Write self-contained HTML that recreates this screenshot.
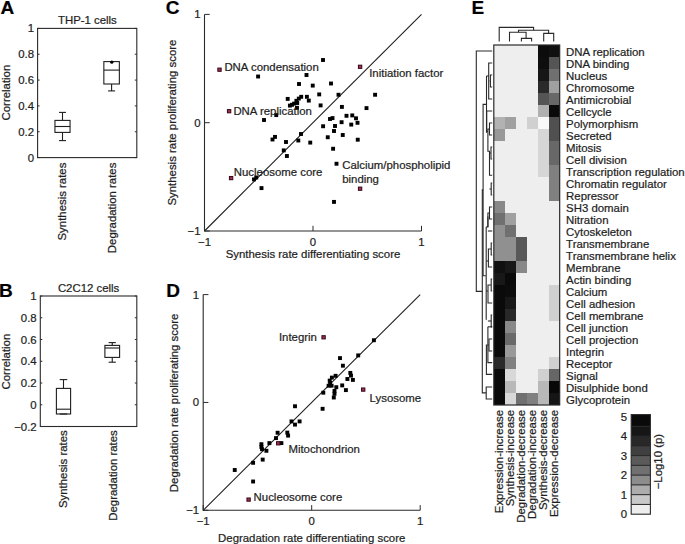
<!DOCTYPE html>
<html><head><meta charset="utf-8"><title>Figure</title>
<style>
html,body{margin:0;padding:0;background:#fff;}
body{width:685px;height:544px;overflow:hidden;}
svg{display:block;font-family:"Liberation Sans",sans-serif;}
text{stroke:#1e1e1e;stroke-width:0.22px;paint-order:stroke;}
</style></head>
<body>
<svg width="685" height="544" viewBox="0 0 685 544">
<rect x="0" y="0" width="685" height="544" fill="#fff"/>
<text x="0.40" y="14.00" font-size="19" text-anchor="start" font-weight="bold" fill="#000">A</text>
<text x="87.40" y="23.60" font-size="11.4" text-anchor="middle" font-weight="normal" fill="#1e1e1e">THP-1 cells</text>
<rect x="37.6" y="28.4" width="99.20000000000002" height="129.2" fill="none" stroke="#2a2a2a" stroke-width="1.1"/>
<line x1="37.60" y1="157.60" x2="39.60" y2="157.60" stroke="#2a2a2a" stroke-width="1"/>
<line x1="136.80" y1="157.60" x2="134.80" y2="157.60" stroke="#2a2a2a" stroke-width="1"/>
<text x="34.00" y="161.60" font-size="11.4" text-anchor="end" font-weight="normal" fill="#1e1e1e">0</text>
<line x1="37.60" y1="131.76" x2="39.60" y2="131.76" stroke="#2a2a2a" stroke-width="1"/>
<line x1="136.80" y1="131.76" x2="134.80" y2="131.76" stroke="#2a2a2a" stroke-width="1"/>
<text x="34.00" y="135.76" font-size="11.4" text-anchor="end" font-weight="normal" fill="#1e1e1e">0.2</text>
<line x1="37.60" y1="105.92" x2="39.60" y2="105.92" stroke="#2a2a2a" stroke-width="1"/>
<line x1="136.80" y1="105.92" x2="134.80" y2="105.92" stroke="#2a2a2a" stroke-width="1"/>
<text x="34.00" y="109.92" font-size="11.4" text-anchor="end" font-weight="normal" fill="#1e1e1e">0.4</text>
<line x1="37.60" y1="80.08" x2="39.60" y2="80.08" stroke="#2a2a2a" stroke-width="1"/>
<line x1="136.80" y1="80.08" x2="134.80" y2="80.08" stroke="#2a2a2a" stroke-width="1"/>
<text x="34.00" y="84.08" font-size="11.4" text-anchor="end" font-weight="normal" fill="#1e1e1e">0.6</text>
<line x1="37.60" y1="54.24" x2="39.60" y2="54.24" stroke="#2a2a2a" stroke-width="1"/>
<line x1="136.80" y1="54.24" x2="134.80" y2="54.24" stroke="#2a2a2a" stroke-width="1"/>
<text x="34.00" y="58.24" font-size="11.4" text-anchor="end" font-weight="normal" fill="#1e1e1e">0.8</text>
<line x1="37.60" y1="28.40" x2="39.60" y2="28.40" stroke="#2a2a2a" stroke-width="1"/>
<line x1="136.80" y1="28.40" x2="134.80" y2="28.40" stroke="#2a2a2a" stroke-width="1"/>
<text x="34.00" y="32.40" font-size="11.4" text-anchor="end" font-weight="normal" fill="#1e1e1e">1</text>
<text transform="translate(9.60,92.60) rotate(-90)" font-size="11.4" text-anchor="middle" font-weight="normal" fill="#1e1e1e">Correlation</text>
<rect x="54.95" y="120.40" width="15.10" height="12.00" fill="none" stroke="#1e1e1e" stroke-width="1.1"/>
<line x1="54.95" y1="126.50" x2="70.05" y2="126.50" stroke="#1e1e1e" stroke-width="1.1"/>
<line x1="62.50" y1="112.40" x2="62.50" y2="120.40" stroke="#1e1e1e" stroke-width="1.1"/>
<line x1="59.00" y1="112.40" x2="66.00" y2="112.40" stroke="#1e1e1e" stroke-width="1.1"/>
<line x1="62.50" y1="132.40" x2="62.50" y2="140.60" stroke="#1e1e1e" stroke-width="1.1"/>
<line x1="59.00" y1="140.60" x2="66.00" y2="140.60" stroke="#1e1e1e" stroke-width="1.1"/>
<text transform="translate(66.40,162.60) rotate(-90)" font-size="11.4" text-anchor="end" font-weight="normal" fill="#1e1e1e">Synthesis rates</text>
<rect x="103.85" y="61.60" width="15.50" height="22.40" fill="none" stroke="#1e1e1e" stroke-width="1.1"/>
<line x1="103.85" y1="70.10" x2="119.35" y2="70.10" stroke="#1e1e1e" stroke-width="1.1"/>
<line x1="111.60" y1="84.00" x2="111.60" y2="90.90" stroke="#1e1e1e" stroke-width="1.1"/>
<line x1="108.10" y1="90.90" x2="115.10" y2="90.90" stroke="#1e1e1e" stroke-width="1.1"/>
<text transform="translate(116.30,162.60) rotate(-90)" font-size="11.4" text-anchor="end" font-weight="normal" fill="#1e1e1e">Degradation rates</text>
<circle cx="111.8" cy="62.2" r="1.6" fill="#000"/>
<text x="-1.10" y="296.60" font-size="19" text-anchor="start" font-weight="bold" fill="#000">B</text>
<text x="88.60" y="291.60" font-size="11.4" text-anchor="middle" font-weight="normal" fill="#1e1e1e">C2C12 cells</text>
<rect x="40.3" y="296.0" width="96.50000000000001" height="130.5" fill="none" stroke="#2a2a2a" stroke-width="1.1"/>
<line x1="40.30" y1="426.50" x2="42.30" y2="426.50" stroke="#2a2a2a" stroke-width="1"/>
<line x1="136.80" y1="426.50" x2="134.80" y2="426.50" stroke="#2a2a2a" stroke-width="1"/>
<text x="36.70" y="430.50" font-size="11.4" text-anchor="end" font-weight="normal" fill="#1e1e1e">−0.2</text>
<line x1="40.30" y1="404.75" x2="42.30" y2="404.75" stroke="#2a2a2a" stroke-width="1"/>
<line x1="136.80" y1="404.75" x2="134.80" y2="404.75" stroke="#2a2a2a" stroke-width="1"/>
<text x="36.70" y="408.75" font-size="11.4" text-anchor="end" font-weight="normal" fill="#1e1e1e">0</text>
<line x1="40.30" y1="383.00" x2="42.30" y2="383.00" stroke="#2a2a2a" stroke-width="1"/>
<line x1="136.80" y1="383.00" x2="134.80" y2="383.00" stroke="#2a2a2a" stroke-width="1"/>
<text x="36.70" y="387.00" font-size="11.4" text-anchor="end" font-weight="normal" fill="#1e1e1e">0.2</text>
<line x1="40.30" y1="361.25" x2="42.30" y2="361.25" stroke="#2a2a2a" stroke-width="1"/>
<line x1="136.80" y1="361.25" x2="134.80" y2="361.25" stroke="#2a2a2a" stroke-width="1"/>
<text x="36.70" y="365.25" font-size="11.4" text-anchor="end" font-weight="normal" fill="#1e1e1e">0.4</text>
<line x1="40.30" y1="339.50" x2="42.30" y2="339.50" stroke="#2a2a2a" stroke-width="1"/>
<line x1="136.80" y1="339.50" x2="134.80" y2="339.50" stroke="#2a2a2a" stroke-width="1"/>
<text x="36.70" y="343.50" font-size="11.4" text-anchor="end" font-weight="normal" fill="#1e1e1e">0.6</text>
<line x1="40.30" y1="317.75" x2="42.30" y2="317.75" stroke="#2a2a2a" stroke-width="1"/>
<line x1="136.80" y1="317.75" x2="134.80" y2="317.75" stroke="#2a2a2a" stroke-width="1"/>
<text x="36.70" y="321.75" font-size="11.4" text-anchor="end" font-weight="normal" fill="#1e1e1e">0.8</text>
<line x1="40.30" y1="296.00" x2="42.30" y2="296.00" stroke="#2a2a2a" stroke-width="1"/>
<line x1="136.80" y1="296.00" x2="134.80" y2="296.00" stroke="#2a2a2a" stroke-width="1"/>
<text x="36.70" y="300.00" font-size="11.4" text-anchor="end" font-weight="normal" fill="#1e1e1e">1</text>
<text transform="translate(9.60,361.60) rotate(-90)" font-size="11.4" text-anchor="middle" font-weight="normal" fill="#1e1e1e">Correlation</text>
<rect x="56.40" y="388.40" width="14.20" height="25.60" fill="none" stroke="#1e1e1e" stroke-width="1.1"/>
<line x1="56.40" y1="409.20" x2="70.60" y2="409.20" stroke="#1e1e1e" stroke-width="1.1"/>
<line x1="63.50" y1="379.60" x2="63.50" y2="388.40" stroke="#1e1e1e" stroke-width="1.1"/>
<line x1="59.70" y1="379.60" x2="67.30" y2="379.60" stroke="#1e1e1e" stroke-width="1.1"/>
<line x1="63.50" y1="414.00" x2="63.50" y2="414.00" stroke="#1e1e1e" stroke-width="1.1"/>
<line x1="59.70" y1="414.00" x2="67.30" y2="414.00" stroke="#1e1e1e" stroke-width="1.1"/>
<text transform="translate(66.60,430.20) rotate(-90)" font-size="11.4" text-anchor="end" font-weight="normal" fill="#1e1e1e">Synthesis rates</text>
<rect x="104.90" y="345.40" width="14.70" height="12.00" fill="none" stroke="#1e1e1e" stroke-width="1.1"/>
<line x1="104.90" y1="348.00" x2="119.60" y2="348.00" stroke="#1e1e1e" stroke-width="1.1"/>
<line x1="112.25" y1="342.60" x2="112.25" y2="345.40" stroke="#1e1e1e" stroke-width="1.1"/>
<line x1="108.65" y1="342.60" x2="115.85" y2="342.60" stroke="#1e1e1e" stroke-width="1.1"/>
<line x1="112.25" y1="357.40" x2="112.25" y2="362.20" stroke="#1e1e1e" stroke-width="1.1"/>
<line x1="108.65" y1="362.20" x2="115.85" y2="362.20" stroke="#1e1e1e" stroke-width="1.1"/>
<text transform="translate(116.60,430.20) rotate(-90)" font-size="11.4" text-anchor="end" font-weight="normal" fill="#1e1e1e">Degradation rates</text>
<text x="165.80" y="14.00" font-size="19" text-anchor="start" font-weight="bold" fill="#000">C</text>
<path d="M204.50,14.40 L204.50,231.00 L421.50,231.00" fill="none" stroke="#2a2a2a" stroke-width="1.1"/>
<line x1="204.50" y1="231.00" x2="421.50" y2="14.40" stroke="#1e1e1e" stroke-width="1.1"/>
<line x1="204.50" y1="231.00" x2="209.70" y2="231.00" stroke="#2a2a2a" stroke-width="1"/>
<line x1="204.50" y1="231.00" x2="204.50" y2="225.80" stroke="#2a2a2a" stroke-width="1"/>
<line x1="204.50" y1="122.70" x2="209.70" y2="122.70" stroke="#2a2a2a" stroke-width="1"/>
<line x1="313.00" y1="231.00" x2="313.00" y2="225.80" stroke="#2a2a2a" stroke-width="1"/>
<line x1="204.50" y1="14.40" x2="209.70" y2="14.40" stroke="#2a2a2a" stroke-width="1"/>
<line x1="421.50" y1="231.00" x2="421.50" y2="225.80" stroke="#2a2a2a" stroke-width="1"/>
<text x="200.50" y="235.00" font-size="11.4" text-anchor="end" font-weight="normal" fill="#1e1e1e">−1</text>
<text x="204.50" y="245.60" font-size="11.4" text-anchor="middle" font-weight="normal" fill="#1e1e1e">−1</text>
<text x="200.50" y="126.70" font-size="11.4" text-anchor="end" font-weight="normal" fill="#1e1e1e">0</text>
<text x="313.00" y="245.60" font-size="11.4" text-anchor="middle" font-weight="normal" fill="#1e1e1e">0</text>
<text x="200.50" y="18.40" font-size="11.4" text-anchor="end" font-weight="normal" fill="#1e1e1e">1</text>
<text x="421.50" y="245.60" font-size="11.4" text-anchor="middle" font-weight="normal" fill="#1e1e1e">1</text>
<text transform="translate(176.40,122.60) rotate(-90)" font-size="11.4" text-anchor="middle" font-weight="normal" fill="#1e1e1e">Synthesis rate proliferating score</text>
<text x="313.00" y="258.20" font-size="11.4" text-anchor="middle" font-weight="normal" fill="#1e1e1e">Synthesis rate differentiating score</text>
<rect x="256.15" y="74.55" width="3.9" height="3.9" fill="#000"/>
<rect x="304.55" y="73.05" width="3.9" height="3.9" fill="#000"/>
<rect x="321.05" y="58.05" width="3.9" height="3.9" fill="#000"/>
<rect x="297.05" y="82.05" width="3.9" height="3.9" fill="#000"/>
<rect x="310.80" y="83.65" width="3.9" height="3.9" fill="#000"/>
<rect x="329.05" y="81.55" width="3.9" height="3.9" fill="#000"/>
<rect x="317.25" y="92.45" width="3.9" height="3.9" fill="#000"/>
<rect x="336.55" y="92.80" width="3.9" height="3.9" fill="#000"/>
<rect x="373.15" y="92.80" width="3.9" height="3.9" fill="#000"/>
<rect x="285.75" y="96.95" width="3.9" height="3.9" fill="#000"/>
<rect x="299.25" y="94.85" width="3.9" height="3.9" fill="#000"/>
<rect x="304.95" y="94.85" width="3.9" height="3.9" fill="#000"/>
<rect x="306.85" y="98.65" width="3.9" height="3.9" fill="#000"/>
<rect x="296.85" y="96.65" width="3.9" height="3.9" fill="#000"/>
<rect x="294.45" y="98.85" width="3.9" height="3.9" fill="#000"/>
<rect x="292.15" y="101.65" width="3.9" height="3.9" fill="#000"/>
<rect x="287.95" y="103.65" width="3.9" height="3.9" fill="#000"/>
<rect x="295.05" y="105.85" width="3.9" height="3.9" fill="#000"/>
<rect x="295.25" y="101.05" width="3.9" height="3.9" fill="#000"/>
<rect x="290.05" y="102.85" width="3.9" height="3.9" fill="#000"/>
<rect x="318.65" y="103.45" width="3.9" height="3.9" fill="#000"/>
<rect x="339.95" y="104.95" width="3.9" height="3.9" fill="#000"/>
<rect x="364.55" y="106.15" width="3.9" height="3.9" fill="#000"/>
<rect x="274.30" y="113.15" width="3.9" height="3.9" fill="#000"/>
<rect x="262.05" y="118.05" width="3.9" height="3.9" fill="#000"/>
<rect x="273.05" y="134.95" width="3.9" height="3.9" fill="#000"/>
<rect x="270.55" y="137.55" width="3.9" height="3.9" fill="#000"/>
<rect x="284.05" y="140.05" width="3.9" height="3.9" fill="#000"/>
<rect x="281.80" y="148.45" width="3.9" height="3.9" fill="#000"/>
<rect x="284.95" y="154.05" width="3.9" height="3.9" fill="#000"/>
<rect x="299.05" y="132.05" width="3.9" height="3.9" fill="#000"/>
<rect x="296.35" y="138.55" width="3.9" height="3.9" fill="#000"/>
<rect x="308.30" y="140.65" width="3.9" height="3.9" fill="#000"/>
<rect x="321.15" y="124.30" width="3.9" height="3.9" fill="#000"/>
<rect x="328.05" y="117.05" width="3.9" height="3.9" fill="#000"/>
<rect x="330.55" y="116.15" width="3.9" height="3.9" fill="#000"/>
<rect x="333.05" y="124.05" width="3.9" height="3.9" fill="#000"/>
<rect x="332.05" y="129.05" width="3.9" height="3.9" fill="#000"/>
<rect x="325.80" y="135.30" width="3.9" height="3.9" fill="#000"/>
<rect x="339.65" y="120.25" width="3.9" height="3.9" fill="#000"/>
<rect x="344.55" y="113.85" width="3.9" height="3.9" fill="#000"/>
<rect x="350.30" y="113.45" width="3.9" height="3.9" fill="#000"/>
<rect x="354.05" y="116.35" width="3.9" height="3.9" fill="#000"/>
<rect x="355.55" y="120.85" width="3.9" height="3.9" fill="#000"/>
<rect x="349.30" y="122.65" width="3.9" height="3.9" fill="#000"/>
<rect x="340.80" y="133.05" width="3.9" height="3.9" fill="#000"/>
<rect x="355.80" y="137.75" width="3.9" height="3.9" fill="#000"/>
<rect x="331.15" y="146.80" width="3.9" height="3.9" fill="#000"/>
<rect x="334.55" y="161.80" width="3.9" height="3.9" fill="#000"/>
<rect x="332.05" y="199.95" width="3.9" height="3.9" fill="#000"/>
<rect x="252.05" y="177.45" width="3.9" height="3.9" fill="#000"/>
<rect x="254.30" y="175.55" width="3.9" height="3.9" fill="#000"/>
<rect x="259.55" y="186.15" width="3.9" height="3.9" fill="#000"/>
<rect x="217.85" y="68.10" width="3.3" height="3.2" fill="#9a3550" stroke="#3c0818" stroke-width="1.05"/>
<rect x="358.45" y="65.20" width="3.3" height="3.2" fill="#9a3550" stroke="#3c0818" stroke-width="1.05"/>
<rect x="227.45" y="109.60" width="3.3" height="3.2" fill="#9a3550" stroke="#3c0818" stroke-width="1.05"/>
<rect x="229.45" y="176.50" width="3.3" height="3.2" fill="#9a3550" stroke="#3c0818" stroke-width="1.05"/>
<rect x="358.45" y="187.10" width="3.3" height="3.2" fill="#9a3550" stroke="#3c0818" stroke-width="1.05"/>
<text x="224.40" y="70.90" font-size="11.4" text-anchor="start" font-weight="normal" fill="#1e1e1e">DNA condensation</text>
<text x="369.20" y="77.00" font-size="11.4" text-anchor="start" font-weight="normal" fill="#1e1e1e">Initiation factor</text>
<text x="233.40" y="114.80" font-size="11.4" text-anchor="start" font-weight="normal" fill="#1e1e1e">DNA replication</text>
<text x="233.80" y="175.60" font-size="11.4" text-anchor="start" font-weight="normal" fill="#1e1e1e">Nucleosome core</text>
<text x="342.20" y="168.70" font-size="11.4" text-anchor="start" font-weight="normal" fill="#1e1e1e">Calcium/phospholipid</text>
<text x="342.20" y="182.60" font-size="11.4" text-anchor="start" font-weight="normal" fill="#1e1e1e">binding</text>
<text x="166.20" y="297.20" font-size="19" text-anchor="start" font-weight="bold" fill="#000">D</text>
<path d="M203.20,294.60 L203.20,510.30 L420.20,510.30" fill="none" stroke="#2a2a2a" stroke-width="1.1"/>
<line x1="203.20" y1="510.30" x2="420.20" y2="294.60" stroke="#1e1e1e" stroke-width="1.1"/>
<line x1="203.20" y1="510.30" x2="208.40" y2="510.30" stroke="#2a2a2a" stroke-width="1"/>
<line x1="203.20" y1="510.30" x2="203.20" y2="505.10" stroke="#2a2a2a" stroke-width="1"/>
<line x1="203.20" y1="402.45" x2="208.40" y2="402.45" stroke="#2a2a2a" stroke-width="1"/>
<line x1="311.70" y1="510.30" x2="311.70" y2="505.10" stroke="#2a2a2a" stroke-width="1"/>
<line x1="203.20" y1="294.60" x2="208.40" y2="294.60" stroke="#2a2a2a" stroke-width="1"/>
<line x1="420.20" y1="510.30" x2="420.20" y2="505.10" stroke="#2a2a2a" stroke-width="1"/>
<text x="199.20" y="514.30" font-size="11.4" text-anchor="end" font-weight="normal" fill="#1e1e1e">−1</text>
<text x="203.20" y="524.90" font-size="11.4" text-anchor="middle" font-weight="normal" fill="#1e1e1e">−1</text>
<text x="199.20" y="406.45" font-size="11.4" text-anchor="end" font-weight="normal" fill="#1e1e1e">0</text>
<text x="311.70" y="524.90" font-size="11.4" text-anchor="middle" font-weight="normal" fill="#1e1e1e">0</text>
<text x="199.20" y="298.60" font-size="11.4" text-anchor="end" font-weight="normal" fill="#1e1e1e">1</text>
<text x="420.20" y="524.90" font-size="11.4" text-anchor="middle" font-weight="normal" fill="#1e1e1e">1</text>
<text transform="translate(177.50,402.90) rotate(-90)" font-size="11.4" text-anchor="middle" font-weight="normal" fill="#1e1e1e">Degradation rate proliferating score</text>
<text x="311.70" y="542.20" font-size="11.4" text-anchor="middle" font-weight="normal" fill="#1e1e1e">Degradation rate differentiating score</text>
<rect x="340.95" y="363.75" width="3.9" height="3.9" fill="#000"/>
<rect x="338.05" y="356.15" width="3.9" height="3.9" fill="#000"/>
<rect x="356.25" y="353.45" width="3.9" height="3.9" fill="#000"/>
<rect x="371.95" y="338.30" width="3.9" height="3.9" fill="#000"/>
<rect x="348.35" y="370.95" width="3.9" height="3.9" fill="#000"/>
<rect x="349.05" y="373.65" width="3.9" height="3.9" fill="#000"/>
<rect x="345.45" y="377.05" width="3.9" height="3.9" fill="#000"/>
<rect x="350.95" y="377.95" width="3.9" height="3.9" fill="#000"/>
<rect x="340.25" y="383.45" width="3.9" height="3.9" fill="#000"/>
<rect x="343.95" y="388.15" width="3.9" height="3.9" fill="#000"/>
<rect x="333.65" y="373.85" width="3.9" height="3.9" fill="#000"/>
<rect x="329.95" y="375.65" width="3.9" height="3.9" fill="#000"/>
<rect x="327.75" y="378.65" width="3.9" height="3.9" fill="#000"/>
<rect x="328.15" y="380.85" width="3.9" height="3.9" fill="#000"/>
<rect x="326.65" y="383.75" width="3.9" height="3.9" fill="#000"/>
<rect x="329.65" y="383.75" width="3.9" height="3.9" fill="#000"/>
<rect x="334.35" y="385.25" width="3.9" height="3.9" fill="#000"/>
<rect x="332.55" y="388.95" width="3.9" height="3.9" fill="#000"/>
<rect x="332.55" y="391.85" width="3.9" height="3.9" fill="#000"/>
<rect x="331.85" y="395.55" width="3.9" height="3.9" fill="#000"/>
<rect x="321.35" y="390.75" width="3.9" height="3.9" fill="#000"/>
<rect x="320.65" y="406.85" width="3.9" height="3.9" fill="#000"/>
<rect x="293.05" y="404.30" width="3.9" height="3.9" fill="#000"/>
<rect x="289.55" y="419.45" width="3.9" height="3.9" fill="#000"/>
<rect x="293.05" y="422.65" width="3.9" height="3.9" fill="#000"/>
<rect x="297.65" y="419.45" width="3.9" height="3.9" fill="#000"/>
<rect x="275.65" y="430.80" width="3.9" height="3.9" fill="#000"/>
<rect x="274.05" y="436.15" width="3.9" height="3.9" fill="#000"/>
<rect x="285.35" y="430.65" width="3.9" height="3.9" fill="#000"/>
<rect x="286.15" y="433.65" width="3.9" height="3.9" fill="#000"/>
<rect x="267.45" y="441.15" width="3.9" height="3.9" fill="#000"/>
<rect x="279.45" y="441.15" width="3.9" height="3.9" fill="#000"/>
<rect x="259.45" y="442.25" width="3.9" height="3.9" fill="#000"/>
<rect x="259.45" y="445.05" width="3.9" height="3.9" fill="#000"/>
<rect x="260.05" y="447.25" width="3.9" height="3.9" fill="#000"/>
<rect x="264.45" y="448.85" width="3.9" height="3.9" fill="#000"/>
<rect x="260.75" y="457.65" width="3.9" height="3.9" fill="#000"/>
<rect x="251.15" y="460.85" width="3.9" height="3.9" fill="#000"/>
<rect x="232.80" y="468.05" width="3.9" height="3.9" fill="#000"/>
<rect x="251.15" y="479.55" width="3.9" height="3.9" fill="#000"/>
<rect x="321.95" y="335.70" width="3.3" height="3.2" fill="#9a3550" stroke="#3c0818" stroke-width="1.05"/>
<rect x="361.55" y="388.00" width="3.3" height="3.2" fill="#9a3550" stroke="#3c0818" stroke-width="1.05"/>
<rect x="276.55" y="441.70" width="3.3" height="3.2" fill="#9a3550" stroke="#3c0818" stroke-width="1.05"/>
<rect x="246.95" y="498.00" width="3.3" height="3.2" fill="#9a3550" stroke="#3c0818" stroke-width="1.05"/>
<text x="316.90" y="341.30" font-size="11.4" text-anchor="start" font-weight="normal" fill="#1e1e1e"><tspan text-anchor="end">Integrin</tspan></text>
<text x="369.60" y="402.30" font-size="11.4" text-anchor="start" font-weight="normal" fill="#1e1e1e">Lysosome</text>
<text x="288.40" y="452.50" font-size="11.4" text-anchor="start" font-weight="normal" fill="#1e1e1e">Mitochondrion</text>
<text x="253.60" y="501.30" font-size="11.4" text-anchor="start" font-weight="normal" fill="#1e1e1e">Nucleosome core</text>
<text x="471.40" y="13.60" font-size="19" text-anchor="start" font-weight="bold" fill="#000">E</text>
<g shape-rendering="crispEdges">
<rect x="493.80" y="45.00" width="11.28" height="12.30" fill="#eeeeee"/>
<rect x="504.78" y="45.00" width="11.28" height="12.30" fill="#eeeeee"/>
<rect x="515.76" y="45.00" width="11.28" height="12.30" fill="#eeeeee"/>
<rect x="526.74" y="45.00" width="11.28" height="12.30" fill="#eeeeee"/>
<rect x="537.72" y="45.00" width="11.28" height="12.30" fill="#0c0c0c"/>
<rect x="548.70" y="45.00" width="11.28" height="12.30" fill="#101010"/>
<rect x="493.80" y="57.00" width="11.28" height="12.30" fill="#eeeeee"/>
<rect x="504.78" y="57.00" width="11.28" height="12.30" fill="#eeeeee"/>
<rect x="515.76" y="57.00" width="11.28" height="12.30" fill="#eeeeee"/>
<rect x="526.74" y="57.00" width="11.28" height="12.30" fill="#eeeeee"/>
<rect x="537.72" y="57.00" width="11.28" height="12.30" fill="#0e0e0e"/>
<rect x="548.70" y="57.00" width="11.28" height="12.30" fill="#555555"/>
<rect x="493.80" y="69.00" width="11.28" height="12.30" fill="#eeeeee"/>
<rect x="504.78" y="69.00" width="11.28" height="12.30" fill="#eeeeee"/>
<rect x="515.76" y="69.00" width="11.28" height="12.30" fill="#eeeeee"/>
<rect x="526.74" y="69.00" width="11.28" height="12.30" fill="#eeeeee"/>
<rect x="537.72" y="69.00" width="11.28" height="12.30" fill="#161616"/>
<rect x="548.70" y="69.00" width="11.28" height="12.30" fill="#707070"/>
<rect x="493.80" y="81.00" width="11.28" height="12.30" fill="#eeeeee"/>
<rect x="504.78" y="81.00" width="11.28" height="12.30" fill="#eeeeee"/>
<rect x="515.76" y="81.00" width="11.28" height="12.30" fill="#eeeeee"/>
<rect x="526.74" y="81.00" width="11.28" height="12.30" fill="#eeeeee"/>
<rect x="537.72" y="81.00" width="11.28" height="12.30" fill="#2a2a2a"/>
<rect x="548.70" y="81.00" width="11.28" height="12.30" fill="#a0a0a0"/>
<rect x="493.80" y="93.00" width="11.28" height="12.30" fill="#eeeeee"/>
<rect x="504.78" y="93.00" width="11.28" height="12.30" fill="#eeeeee"/>
<rect x="515.76" y="93.00" width="11.28" height="12.30" fill="#eeeeee"/>
<rect x="526.74" y="93.00" width="11.28" height="12.30" fill="#eeeeee"/>
<rect x="537.72" y="93.00" width="11.28" height="12.30" fill="#555555"/>
<rect x="548.70" y="93.00" width="11.28" height="12.30" fill="#686868"/>
<rect x="493.80" y="105.00" width="11.28" height="12.30" fill="#eeeeee"/>
<rect x="504.78" y="105.00" width="11.28" height="12.30" fill="#eeeeee"/>
<rect x="515.76" y="105.00" width="11.28" height="12.30" fill="#eeeeee"/>
<rect x="526.74" y="105.00" width="11.28" height="12.30" fill="#eeeeee"/>
<rect x="537.72" y="105.00" width="11.28" height="12.30" fill="#b0b0b0"/>
<rect x="548.70" y="105.00" width="11.28" height="12.30" fill="#0a0a0a"/>
<rect x="493.80" y="117.00" width="11.28" height="12.30" fill="#b2b2b2"/>
<rect x="504.78" y="117.00" width="11.28" height="12.30" fill="#a0a0a0"/>
<rect x="515.76" y="117.00" width="11.28" height="12.30" fill="#eeeeee"/>
<rect x="526.74" y="117.00" width="11.28" height="12.30" fill="#d0d0d0"/>
<rect x="537.72" y="117.00" width="11.28" height="12.30" fill="#f8f8f8"/>
<rect x="548.70" y="117.00" width="11.28" height="12.30" fill="#505050"/>
<rect x="493.80" y="129.00" width="11.28" height="12.30" fill="#989898"/>
<rect x="504.78" y="129.00" width="11.28" height="12.30" fill="#eeeeee"/>
<rect x="515.76" y="129.00" width="11.28" height="12.30" fill="#eeeeee"/>
<rect x="526.74" y="129.00" width="11.28" height="12.30" fill="#eeeeee"/>
<rect x="537.72" y="129.00" width="11.28" height="12.30" fill="#d6d6d6"/>
<rect x="548.70" y="129.00" width="11.28" height="12.30" fill="#505050"/>
<rect x="493.80" y="141.00" width="11.28" height="12.30" fill="#eeeeee"/>
<rect x="504.78" y="141.00" width="11.28" height="12.30" fill="#eeeeee"/>
<rect x="515.76" y="141.00" width="11.28" height="12.30" fill="#eeeeee"/>
<rect x="526.74" y="141.00" width="11.28" height="12.30" fill="#eeeeee"/>
<rect x="537.72" y="141.00" width="11.28" height="12.30" fill="#d6d6d6"/>
<rect x="548.70" y="141.00" width="11.28" height="12.30" fill="#686868"/>
<rect x="493.80" y="153.00" width="11.28" height="12.30" fill="#eeeeee"/>
<rect x="504.78" y="153.00" width="11.28" height="12.30" fill="#eeeeee"/>
<rect x="515.76" y="153.00" width="11.28" height="12.30" fill="#eeeeee"/>
<rect x="526.74" y="153.00" width="11.28" height="12.30" fill="#eeeeee"/>
<rect x="537.72" y="153.00" width="11.28" height="12.30" fill="#d6d6d6"/>
<rect x="548.70" y="153.00" width="11.28" height="12.30" fill="#686868"/>
<rect x="493.80" y="165.00" width="11.28" height="12.30" fill="#eeeeee"/>
<rect x="504.78" y="165.00" width="11.28" height="12.30" fill="#eeeeee"/>
<rect x="515.76" y="165.00" width="11.28" height="12.30" fill="#eeeeee"/>
<rect x="526.74" y="165.00" width="11.28" height="12.30" fill="#eeeeee"/>
<rect x="537.72" y="165.00" width="11.28" height="12.30" fill="#d6d6d6"/>
<rect x="548.70" y="165.00" width="11.28" height="12.30" fill="#808080"/>
<rect x="493.80" y="177.00" width="11.28" height="12.30" fill="#eeeeee"/>
<rect x="504.78" y="177.00" width="11.28" height="12.30" fill="#eeeeee"/>
<rect x="515.76" y="177.00" width="11.28" height="12.30" fill="#eeeeee"/>
<rect x="526.74" y="177.00" width="11.28" height="12.30" fill="#eeeeee"/>
<rect x="537.72" y="177.00" width="11.28" height="12.30" fill="#eeeeee"/>
<rect x="548.70" y="177.00" width="11.28" height="12.30" fill="#808080"/>
<rect x="493.80" y="189.00" width="11.28" height="12.30" fill="#eeeeee"/>
<rect x="504.78" y="189.00" width="11.28" height="12.30" fill="#eeeeee"/>
<rect x="515.76" y="189.00" width="11.28" height="12.30" fill="#eeeeee"/>
<rect x="526.74" y="189.00" width="11.28" height="12.30" fill="#eeeeee"/>
<rect x="537.72" y="189.00" width="11.28" height="12.30" fill="#eeeeee"/>
<rect x="548.70" y="189.00" width="11.28" height="12.30" fill="#808080"/>
<rect x="493.80" y="201.00" width="11.28" height="12.30" fill="#888888"/>
<rect x="504.78" y="201.00" width="11.28" height="12.30" fill="#eeeeee"/>
<rect x="515.76" y="201.00" width="11.28" height="12.30" fill="#eeeeee"/>
<rect x="526.74" y="201.00" width="11.28" height="12.30" fill="#eeeeee"/>
<rect x="537.72" y="201.00" width="11.28" height="12.30" fill="#eeeeee"/>
<rect x="548.70" y="201.00" width="11.28" height="12.30" fill="#eeeeee"/>
<rect x="493.80" y="213.00" width="11.28" height="12.30" fill="#707070"/>
<rect x="504.78" y="213.00" width="11.28" height="12.30" fill="#a0a0a0"/>
<rect x="515.76" y="213.00" width="11.28" height="12.30" fill="#eeeeee"/>
<rect x="526.74" y="213.00" width="11.28" height="12.30" fill="#eeeeee"/>
<rect x="537.72" y="213.00" width="11.28" height="12.30" fill="#eeeeee"/>
<rect x="548.70" y="213.00" width="11.28" height="12.30" fill="#eeeeee"/>
<rect x="493.80" y="225.00" width="11.28" height="12.30" fill="#909090"/>
<rect x="504.78" y="225.00" width="11.28" height="12.30" fill="#707070"/>
<rect x="515.76" y="225.00" width="11.28" height="12.30" fill="#eeeeee"/>
<rect x="526.74" y="225.00" width="11.28" height="12.30" fill="#eeeeee"/>
<rect x="537.72" y="225.00" width="11.28" height="12.30" fill="#eeeeee"/>
<rect x="548.70" y="225.00" width="11.28" height="12.30" fill="#eeeeee"/>
<rect x="493.80" y="237.00" width="11.28" height="12.30" fill="#909090"/>
<rect x="504.78" y="237.00" width="11.28" height="12.30" fill="#909090"/>
<rect x="515.76" y="237.00" width="11.28" height="12.30" fill="#585858"/>
<rect x="526.74" y="237.00" width="11.28" height="12.30" fill="#eeeeee"/>
<rect x="537.72" y="237.00" width="11.28" height="12.30" fill="#eeeeee"/>
<rect x="548.70" y="237.00" width="11.28" height="12.30" fill="#eeeeee"/>
<rect x="493.80" y="249.00" width="11.28" height="12.30" fill="#909090"/>
<rect x="504.78" y="249.00" width="11.28" height="12.30" fill="#909090"/>
<rect x="515.76" y="249.00" width="11.28" height="12.30" fill="#585858"/>
<rect x="526.74" y="249.00" width="11.28" height="12.30" fill="#eeeeee"/>
<rect x="537.72" y="249.00" width="11.28" height="12.30" fill="#eeeeee"/>
<rect x="548.70" y="249.00" width="11.28" height="12.30" fill="#eeeeee"/>
<rect x="493.80" y="261.00" width="11.28" height="12.30" fill="#101010"/>
<rect x="504.78" y="261.00" width="11.28" height="12.30" fill="#181818"/>
<rect x="515.76" y="261.00" width="11.28" height="12.30" fill="#888888"/>
<rect x="526.74" y="261.00" width="11.28" height="12.30" fill="#eeeeee"/>
<rect x="537.72" y="261.00" width="11.28" height="12.30" fill="#eeeeee"/>
<rect x="548.70" y="261.00" width="11.28" height="12.30" fill="#eeeeee"/>
<rect x="493.80" y="273.00" width="11.28" height="12.30" fill="#181818"/>
<rect x="504.78" y="273.00" width="11.28" height="12.30" fill="#0a0a0a"/>
<rect x="515.76" y="273.00" width="11.28" height="12.30" fill="#eeeeee"/>
<rect x="526.74" y="273.00" width="11.28" height="12.30" fill="#eeeeee"/>
<rect x="537.72" y="273.00" width="11.28" height="12.30" fill="#eeeeee"/>
<rect x="548.70" y="273.00" width="11.28" height="12.30" fill="#eeeeee"/>
<rect x="493.80" y="285.00" width="11.28" height="12.30" fill="#0a0a0a"/>
<rect x="504.78" y="285.00" width="11.28" height="12.30" fill="#0c0c0c"/>
<rect x="515.76" y="285.00" width="11.28" height="12.30" fill="#eeeeee"/>
<rect x="526.74" y="285.00" width="11.28" height="12.30" fill="#eeeeee"/>
<rect x="537.72" y="285.00" width="11.28" height="12.30" fill="#eeeeee"/>
<rect x="548.70" y="285.00" width="11.28" height="12.30" fill="#d0d0d0"/>
<rect x="493.80" y="297.00" width="11.28" height="12.30" fill="#0a0a0a"/>
<rect x="504.78" y="297.00" width="11.28" height="12.30" fill="#181818"/>
<rect x="515.76" y="297.00" width="11.28" height="12.30" fill="#eeeeee"/>
<rect x="526.74" y="297.00" width="11.28" height="12.30" fill="#eeeeee"/>
<rect x="537.72" y="297.00" width="11.28" height="12.30" fill="#eeeeee"/>
<rect x="548.70" y="297.00" width="11.28" height="12.30" fill="#d0d0d0"/>
<rect x="493.80" y="309.00" width="11.28" height="12.30" fill="#0a0a0a"/>
<rect x="504.78" y="309.00" width="11.28" height="12.30" fill="#282828"/>
<rect x="515.76" y="309.00" width="11.28" height="12.30" fill="#eeeeee"/>
<rect x="526.74" y="309.00" width="11.28" height="12.30" fill="#eeeeee"/>
<rect x="537.72" y="309.00" width="11.28" height="12.30" fill="#eeeeee"/>
<rect x="548.70" y="309.00" width="11.28" height="12.30" fill="#d0d0d0"/>
<rect x="493.80" y="321.00" width="11.28" height="12.30" fill="#0a0a0a"/>
<rect x="504.78" y="321.00" width="11.28" height="12.30" fill="#888888"/>
<rect x="515.76" y="321.00" width="11.28" height="12.30" fill="#eeeeee"/>
<rect x="526.74" y="321.00" width="11.28" height="12.30" fill="#eeeeee"/>
<rect x="537.72" y="321.00" width="11.28" height="12.30" fill="#eeeeee"/>
<rect x="548.70" y="321.00" width="11.28" height="12.30" fill="#eeeeee"/>
<rect x="493.80" y="333.00" width="11.28" height="12.30" fill="#0a0a0a"/>
<rect x="504.78" y="333.00" width="11.28" height="12.30" fill="#6a6a6a"/>
<rect x="515.76" y="333.00" width="11.28" height="12.30" fill="#eeeeee"/>
<rect x="526.74" y="333.00" width="11.28" height="12.30" fill="#eeeeee"/>
<rect x="537.72" y="333.00" width="11.28" height="12.30" fill="#eeeeee"/>
<rect x="548.70" y="333.00" width="11.28" height="12.30" fill="#eeeeee"/>
<rect x="493.80" y="345.00" width="11.28" height="12.30" fill="#0a0a0a"/>
<rect x="504.78" y="345.00" width="11.28" height="12.30" fill="#999999"/>
<rect x="515.76" y="345.00" width="11.28" height="12.30" fill="#eeeeee"/>
<rect x="526.74" y="345.00" width="11.28" height="12.30" fill="#eeeeee"/>
<rect x="537.72" y="345.00" width="11.28" height="12.30" fill="#eeeeee"/>
<rect x="548.70" y="345.00" width="11.28" height="12.30" fill="#eeeeee"/>
<rect x="493.80" y="357.00" width="11.28" height="12.30" fill="#2a2a2a"/>
<rect x="504.78" y="357.00" width="11.28" height="12.30" fill="#808080"/>
<rect x="515.76" y="357.00" width="11.28" height="12.30" fill="#eeeeee"/>
<rect x="526.74" y="357.00" width="11.28" height="12.30" fill="#eeeeee"/>
<rect x="537.72" y="357.00" width="11.28" height="12.30" fill="#eeeeee"/>
<rect x="548.70" y="357.00" width="11.28" height="12.30" fill="#d0d0d0"/>
<rect x="493.80" y="369.00" width="11.28" height="12.30" fill="#0a0a0a"/>
<rect x="504.78" y="369.00" width="11.28" height="12.30" fill="#d8d8d8"/>
<rect x="515.76" y="369.00" width="11.28" height="12.30" fill="#eeeeee"/>
<rect x="526.74" y="369.00" width="11.28" height="12.30" fill="#eeeeee"/>
<rect x="537.72" y="369.00" width="11.28" height="12.30" fill="#d0d0d0"/>
<rect x="548.70" y="369.00" width="11.28" height="12.30" fill="#666666"/>
<rect x="493.80" y="381.00" width="11.28" height="12.30" fill="#0a0a0a"/>
<rect x="504.78" y="381.00" width="11.28" height="12.30" fill="#b8b8b8"/>
<rect x="515.76" y="381.00" width="11.28" height="12.30" fill="#eeeeee"/>
<rect x="526.74" y="381.00" width="11.28" height="12.30" fill="#eeeeee"/>
<rect x="537.72" y="381.00" width="11.28" height="12.30" fill="#b8b8b8"/>
<rect x="548.70" y="381.00" width="11.28" height="12.30" fill="#080808"/>
<rect x="493.80" y="393.00" width="11.28" height="12.30" fill="#0a0a0a"/>
<rect x="504.78" y="393.00" width="11.28" height="12.30" fill="#d8d8d8"/>
<rect x="515.76" y="393.00" width="11.28" height="12.30" fill="#707070"/>
<rect x="526.74" y="393.00" width="11.28" height="12.30" fill="#808080"/>
<rect x="537.72" y="393.00" width="11.28" height="12.30" fill="#b8b8b8"/>
<rect x="548.70" y="393.00" width="11.28" height="12.30" fill="#151515"/>
</g>
<rect x="493.80" y="45.00" width="65.88" height="360.00" fill="none" stroke="#2a2a2a" stroke-width="1.2"/>
<text x="566.10" y="56.00" font-size="11.4" text-anchor="start" font-weight="normal" fill="#1e1e1e">DNA replication</text>
<text x="566.10" y="68.00" font-size="11.4" text-anchor="start" font-weight="normal" fill="#1e1e1e">DNA binding</text>
<text x="566.10" y="80.00" font-size="11.4" text-anchor="start" font-weight="normal" fill="#1e1e1e">Nucleus</text>
<text x="566.10" y="92.00" font-size="11.4" text-anchor="start" font-weight="normal" fill="#1e1e1e">Chromosome</text>
<text x="566.10" y="104.00" font-size="11.4" text-anchor="start" font-weight="normal" fill="#1e1e1e">Antimicrobial</text>
<text x="566.10" y="116.00" font-size="11.4" text-anchor="start" font-weight="normal" fill="#1e1e1e">Cellcycle</text>
<text x="566.10" y="128.00" font-size="11.4" text-anchor="start" font-weight="normal" fill="#1e1e1e">Polymorphism</text>
<text x="566.10" y="140.00" font-size="11.4" text-anchor="start" font-weight="normal" fill="#1e1e1e">Secreted</text>
<text x="566.10" y="152.00" font-size="11.4" text-anchor="start" font-weight="normal" fill="#1e1e1e">Mitosis</text>
<text x="566.10" y="164.00" font-size="11.4" text-anchor="start" font-weight="normal" fill="#1e1e1e">Cell division</text>
<text x="566.10" y="176.00" font-size="11.4" text-anchor="start" font-weight="normal" fill="#1e1e1e">Transcription regulation</text>
<text x="566.10" y="188.00" font-size="11.4" text-anchor="start" font-weight="normal" fill="#1e1e1e">Chromatin regulator</text>
<text x="566.10" y="200.00" font-size="11.4" text-anchor="start" font-weight="normal" fill="#1e1e1e">Repressor</text>
<text x="566.10" y="212.00" font-size="11.4" text-anchor="start" font-weight="normal" fill="#1e1e1e">SH3 domain</text>
<text x="566.10" y="224.00" font-size="11.4" text-anchor="start" font-weight="normal" fill="#1e1e1e">Nitration</text>
<text x="566.10" y="236.00" font-size="11.4" text-anchor="start" font-weight="normal" fill="#1e1e1e">Cytoskeleton</text>
<text x="566.10" y="248.00" font-size="11.4" text-anchor="start" font-weight="normal" fill="#1e1e1e">Transmembrane</text>
<text x="566.10" y="260.00" font-size="11.4" text-anchor="start" font-weight="normal" fill="#1e1e1e">Transmembrane helix</text>
<text x="566.10" y="272.00" font-size="11.4" text-anchor="start" font-weight="normal" fill="#1e1e1e">Membrane</text>
<text x="566.10" y="284.00" font-size="11.4" text-anchor="start" font-weight="normal" fill="#1e1e1e">Actin binding</text>
<text x="566.10" y="296.00" font-size="11.4" text-anchor="start" font-weight="normal" fill="#1e1e1e">Calcium</text>
<text x="566.10" y="308.00" font-size="11.4" text-anchor="start" font-weight="normal" fill="#1e1e1e">Cell adhesion</text>
<text x="566.10" y="320.00" font-size="11.4" text-anchor="start" font-weight="normal" fill="#1e1e1e">Cell membrane</text>
<text x="566.10" y="332.00" font-size="11.4" text-anchor="start" font-weight="normal" fill="#1e1e1e">Cell junction</text>
<text x="566.10" y="344.00" font-size="11.4" text-anchor="start" font-weight="normal" fill="#1e1e1e">Cell projection</text>
<text x="566.10" y="356.00" font-size="11.4" text-anchor="start" font-weight="normal" fill="#1e1e1e">Integrin</text>
<text x="566.10" y="368.00" font-size="11.4" text-anchor="start" font-weight="normal" fill="#1e1e1e">Receptor</text>
<text x="566.10" y="380.00" font-size="11.4" text-anchor="start" font-weight="normal" fill="#1e1e1e">Signal</text>
<text x="566.10" y="392.00" font-size="11.4" text-anchor="start" font-weight="normal" fill="#1e1e1e">Disulphide bond</text>
<text x="566.10" y="404.00" font-size="11.4" text-anchor="start" font-weight="normal" fill="#1e1e1e">Glycoprotein</text>
<text transform="translate(503.19,410.00) rotate(-90)" font-size="11.4" text-anchor="end" font-weight="normal" fill="#1e1e1e">Expression-increase</text>
<text transform="translate(514.17,410.00) rotate(-90)" font-size="11.4" text-anchor="end" font-weight="normal" fill="#1e1e1e">Synthesis-increase</text>
<text transform="translate(525.15,410.00) rotate(-90)" font-size="11.4" text-anchor="end" font-weight="normal" fill="#1e1e1e">Degradation-decrease</text>
<text transform="translate(536.13,410.00) rotate(-90)" font-size="11.4" text-anchor="end" font-weight="normal" fill="#1e1e1e">Degradation-increase</text>
<text transform="translate(547.11,410.00) rotate(-90)" font-size="11.4" text-anchor="end" font-weight="normal" fill="#1e1e1e">Synthesis-decrease</text>
<text transform="translate(558.09,410.00) rotate(-90)" font-size="11.4" text-anchor="end" font-weight="normal" fill="#1e1e1e">Expression-decrease</text>
<path d="M521.40,41.6 V38.4 H531.60 V41.6" fill="none" stroke="#2a2a2a" stroke-width="1.1"/>
<path d="M509.50,41.6 V32.3 H526.1 V38.4" fill="none" stroke="#2a2a2a" stroke-width="1.1"/>
<path d="M543.70,41.6 V33.4 H553.70 V41.6" fill="none" stroke="#2a2a2a" stroke-width="1.1"/>
<path d="M518.5,32.3 V30.2 H548.6 V33.4" fill="none" stroke="#2a2a2a" stroke-width="1.1"/>
<path d="M499.20,41.6 V27.4 H533.6 V30.2" fill="none" stroke="#2a2a2a" stroke-width="1.1"/>
<path d="M492.2,75.00 H490.4 V87.00 H492.2" fill="none" stroke="#2a2a2a" stroke-width="1.1"/>
<path d="M490.4,81.00 H489.6" fill="none" stroke="#2a2a2a" stroke-width="1.1"/>
<path d="M492.2,63.00 H488.7 V99.00 H492.2" fill="none" stroke="#2a2a2a" stroke-width="1.1"/>
<path d="M488.7,76.0 H486.5" fill="none" stroke="#2a2a2a" stroke-width="1.1"/>
<path d="M492.2,111.00 H486.7 V131.4 H487.9" fill="none" stroke="#2a2a2a" stroke-width="1.1"/>
<path d="M492.2,123.00 H489.5 V135.00 H492.2" fill="none" stroke="#2a2a2a" stroke-width="1.1"/>
<path d="M492.2,147.00 H491.0 V159.00 H492.2" fill="none" stroke="#2a2a2a" stroke-width="1.1"/>
<path d="M489.5,129.00 H487.9 V151.3 H489.5 V175.3 H492.2" fill="none" stroke="#2a2a2a" stroke-width="1.1"/>
<path d="M491.0,153.00 H489.5" fill="none" stroke="#2a2a2a" stroke-width="1.1"/>
<path d="M492.2,183.00 H491.2 V195.00 H492.2" fill="none" stroke="#2a2a2a" stroke-width="1.1"/>
<path d="M491.2,189.00 H489.5" fill="none" stroke="#2a2a2a" stroke-width="1.1"/>
<path d="M486.5,76.0 V132.8" fill="none" stroke="#2a2a2a" stroke-width="1.1"/>
<path d="M486.5,104.4 H483.1 V275.7 H485.8" fill="none" stroke="#2a2a2a" stroke-width="1.1"/>
<path d="M492.2,207.00 H489.5 V219.00 H492.2" fill="none" stroke="#2a2a2a" stroke-width="1.1"/>
<path d="M489.5,213.00 H487.9 V226.9" fill="none" stroke="#2a2a2a" stroke-width="1.1"/>
<path d="M492.2,231.00 H487.9" fill="none" stroke="#2a2a2a" stroke-width="1.1"/>
<path d="M487.9,216.4 V226.9 H486.2" fill="none" stroke="#2a2a2a" stroke-width="1.1"/>
<path d="M492.2,243.00 H491.2 V255.00 H492.2" fill="none" stroke="#2a2a2a" stroke-width="1.1"/>
<path d="M491.2,249.00 H488.4 V267.00 H492.2" fill="none" stroke="#2a2a2a" stroke-width="1.1"/>
<path d="M488.4,261.00 H486.2" fill="none" stroke="#2a2a2a" stroke-width="1.1"/>
<path d="M486.2,226.9 V319.8" fill="none" stroke="#2a2a2a" stroke-width="1.1"/>
<path d="M492.2,279.00 H491.2 V291.00 H492.2" fill="none" stroke="#2a2a2a" stroke-width="1.1"/>
<path d="M491.2,285.00 H488.0 V303.00 H492.2" fill="none" stroke="#2a2a2a" stroke-width="1.1"/>
<path d="M488.0,291.00 H486.2" fill="none" stroke="#2a2a2a" stroke-width="1.1"/>
<path d="M492.2,315.00 H491.2 V327.00 H492.2" fill="none" stroke="#2a2a2a" stroke-width="1.1"/>
<path d="M491.2,321.00 H487.9" fill="none" stroke="#2a2a2a" stroke-width="1.1"/>
<path d="M492.2,339.00 H489.0 V351.00 H492.2" fill="none" stroke="#2a2a2a" stroke-width="1.1"/>
<path d="M489.0,345.00 H487.9" fill="none" stroke="#2a2a2a" stroke-width="1.1"/>
<path d="M487.9,326.8 V362.6 H492.2" fill="none" stroke="#2a2a2a" stroke-width="1.1"/>
<path d="M487.9,326.8 H492.2" fill="none" stroke="#2a2a2a" stroke-width="1.1"/>
<path d="M487.6,345.0 H486.4 V374.4 H492.2" fill="none" stroke="#2a2a2a" stroke-width="1.1"/>
<path d="M486.2,319.8 H486.4" fill="none" stroke="#2a2a2a" stroke-width="1.1"/>
<path d="M492.2,387.00 H486.2 V399.00 H492.2" fill="none" stroke="#2a2a2a" stroke-width="1.1"/>
<path d="M486.2,392.9 H482.3 V189.9 H483.1" fill="none" stroke="#2a2a2a" stroke-width="1.1"/>
<path d="M492.2,51.00 H476.3 V291.4 H482.3" fill="none" stroke="#2a2a2a" stroke-width="1.1"/>
<rect x="631.2" y="504.43" width="19.2" height="9.97" fill="#eeeeee"/>
<rect x="631.2" y="494.66" width="19.2" height="9.97" fill="#c8c8c8"/>
<rect x="631.2" y="484.89" width="19.2" height="9.97" fill="#acacac"/>
<rect x="631.2" y="475.12" width="19.2" height="9.97" fill="#8c8c8c"/>
<rect x="631.2" y="465.35" width="19.2" height="9.97" fill="#707070"/>
<rect x="631.2" y="455.58" width="19.2" height="9.97" fill="#5a5a5a"/>
<rect x="631.2" y="445.81" width="19.2" height="9.97" fill="#404040"/>
<rect x="631.2" y="436.04" width="19.2" height="9.97" fill="#282828"/>
<rect x="631.2" y="426.27" width="19.2" height="9.97" fill="#161616"/>
<rect x="631.2" y="414.60" width="19.2" height="11.87" fill="#0a0a0a"/>
<line x1="631.20" y1="504.43" x2="650.40" y2="504.43" stroke="#262626" stroke-width="1.0"/>
<line x1="631.20" y1="494.66" x2="650.40" y2="494.66" stroke="#262626" stroke-width="1.0"/>
<line x1="631.20" y1="484.89" x2="650.40" y2="484.89" stroke="#262626" stroke-width="1.0"/>
<line x1="631.20" y1="475.12" x2="650.40" y2="475.12" stroke="#262626" stroke-width="1.0"/>
<line x1="631.20" y1="465.35" x2="650.40" y2="465.35" stroke="#262626" stroke-width="1.0"/>
<line x1="631.20" y1="455.58" x2="650.40" y2="455.58" stroke="#262626" stroke-width="1.0"/>
<line x1="631.20" y1="445.81" x2="650.40" y2="445.81" stroke="#262626" stroke-width="1.0"/>
<line x1="631.20" y1="436.04" x2="650.40" y2="436.04" stroke="#262626" stroke-width="1.0"/>
<line x1="631.20" y1="426.27" x2="650.40" y2="426.27" stroke="#262626" stroke-width="1.0"/>
<rect x="631.2" y="414.6" width="19.2" height="99.60" fill="none" stroke="#2a2a2a" stroke-width="1.1"/>
<text x="627.20" y="518.40" font-size="11.4" text-anchor="end" font-weight="normal" fill="#1e1e1e">0</text>
<text x="627.20" y="498.86" font-size="11.4" text-anchor="end" font-weight="normal" fill="#1e1e1e">1</text>
<text x="627.20" y="479.32" font-size="11.4" text-anchor="end" font-weight="normal" fill="#1e1e1e">2</text>
<text x="627.20" y="459.78" font-size="11.4" text-anchor="end" font-weight="normal" fill="#1e1e1e">3</text>
<text x="627.20" y="440.24" font-size="11.4" text-anchor="end" font-weight="normal" fill="#1e1e1e">4</text>
<text x="627.20" y="420.70" font-size="11.4" text-anchor="end" font-weight="normal" fill="#1e1e1e">5</text>
<text transform="translate(662.00,461.60) rotate(-90)" font-size="11.4" text-anchor="middle" font-weight="normal" fill="#1e1e1e">−Log10 (p)</text>
</svg>
</body></html>
